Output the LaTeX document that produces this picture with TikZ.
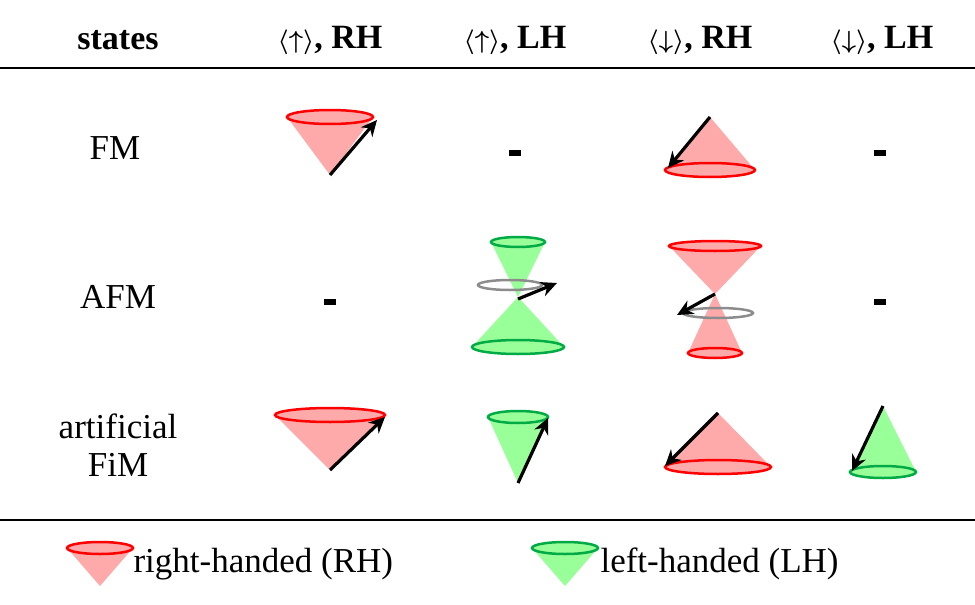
\documentclass[tikz,border=0pt]{standalone}
\usepackage{amsmath}
\usepackage{fontspec}
\setmainfont{Liberation Serif}
\usetikzlibrary{arrows.meta,calc}
\definecolor{rl}{HTML}{FF0000}\definecolor{rf}{HTML}{FFAAAA}
\definecolor{gl}{HTML}{00AA44}\definecolor{gf}{HTML}{99FF99}
\tikzset{spin/.style={line width=3.2pt,-{Stealth[length=16pt,width=15pt]}},
 hd/.style={font=\bfseries\fontsize{34}{38}\selectfont},
 lb/.style={font=\fontsize{35}{40}\selectfont,align=center},
 dsh/.style={fill=black,inner sep=0pt,minimum width=12pt,minimum height=6pt},
 ring/.style={draw=gray!90,line width=2.5pt}}
\newcommand\mycone[6]{%
 \fill[#1] ($#3+(-#4,0)$) -- #6 -- ($#3+(#4,0)$) -- cycle;
 \fill[#1] #3 ellipse[x radius=#4,y radius=#5];
 \draw[#2,line width=2.5pt] #3 ellipse[x radius=#4,y radius=#5];}
\begin{document}
\begin{tikzpicture}[x=1pt,y=-1pt]
\useasboundingbox (0,0) rectangle (975,605);
\draw[line width=2pt] (0,68) -- (975,68);
\draw[line width=2pt] (0,520) -- (975,520);
\node[hd] (h0) at (118,40) {states};
\node[hd] (h1) at (330,40) {$\boldsymbol{\langle\uparrow\rangle}$, RH};
\node[hd] (h2) at (515,40) {$\boldsymbol{\langle\uparrow\rangle}$, LH};
\node[hd] (h3) at (700,40) {$\boldsymbol{\langle\downarrow\rangle}$, RH};
\node[hd] (h4) at (882,40) {$\boldsymbol{\langle\downarrow\rangle}$, LH};
\node[lb] (r1) at (115,148) {FM};
\node[lb] (r2) at (118,297) {AFM};
\node[lb,text width=180pt] (r3) at (118,445) {artificial\\[-2pt]FiM};
\foreach \p/\n in {{(515,153)}/d1,{(880,153)}/d2,{(330,302)}/d3,{(880,302)}/d4}
  \node[dsh] (\n) at \p {};
% FM
\mycone{rf}{rl}{(330,117)}{43}{7}{(330,175)}
\coordinate (a1) at (330,175); \coordinate (b1) at (377,120); \draw[spin] (a1) -- (b1);
\mycone{rf}{rl}{(710,170)}{45}{7}{(710,117)}
\coordinate (a2) at (710,117); \coordinate (b2) at (668,168); \draw[spin] (a2) -- (b2);
% AFM
\mycone{gf}{gl}{(518,242)}{27}{5}{(518,297)}
\mycone{gf}{gl}{(518,347)}{46}{7}{(518,297)}
\draw[ring] (510,285) ellipse[x radius=32,y radius=5];
\coordinate (a3) at (518,299); \coordinate (b3) at (557,283); \draw[spin] (a3) -- (b3);
\mycone{rf}{rl}{(715,246)}{46}{5}{(715,294)}
\mycone{rf}{rl}{(715,353)}{27}{5}{(715,294)}
\draw[ring] (718,313) ellipse[x radius=35,y radius=5];
\coordinate (a4) at (715,294); \coordinate (b4) at (677,315); \draw[spin] (a4) -- (b4);
% FiM
\mycone{rf}{rl}{(330,415)}{55}{7}{(330,470)}
\coordinate (a5) at (330,470); \coordinate (b5) at (385,417); \draw[spin] (a5) -- (b5);
\mycone{gf}{gl}{(518,417)}{30}{6}{(518,483)}
\coordinate (a6) at (518,483); \coordinate (b6) at (548,418); \draw[spin] (a6) -- (b6);
\mycone{rf}{rl}{(718,467)}{53}{7}{(718,413)}
\coordinate (a7) at (718,413); \coordinate (b7) at (665,466); \draw[spin] (a7) -- (b7);
\mycone{gf}{gl}{(883,472)}{33}{6}{(883,406)}
\coordinate (a8) at (883,406); \coordinate (b8) at (852,471); \draw[spin] (a8) -- (b8);
% legend
\mycone{rf}{rl}{(100,548)}{33}{6}{(100,586)}
\node[lb,anchor=west] (l1) at (130,564) {right-handed (RH)};
\mycone{gf}{gl}{(565,548)}{33}{6}{(565,586)}
\node[lb,anchor=west] (l2) at (597,564) {left-handed (LH)};
\end{tikzpicture}
\end{document}
